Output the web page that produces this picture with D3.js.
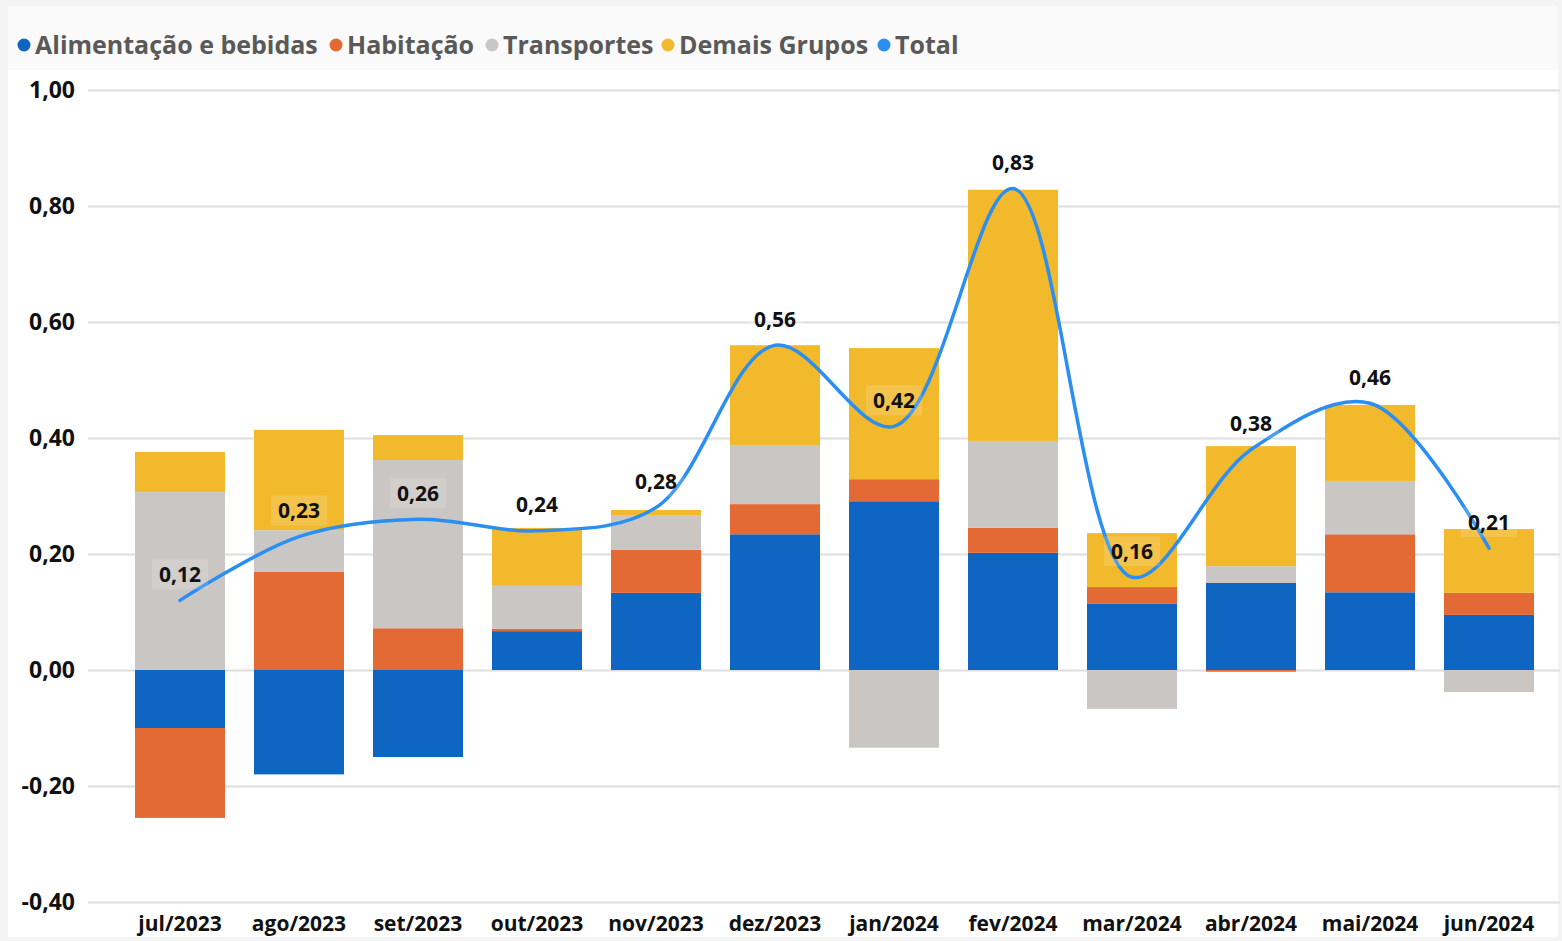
<!DOCTYPE html>
<html lang="pt">
<head>
<meta charset="utf-8">
<title>IPCA - contribuição por grupo</title>
<script src="https://d3js.org/d3.v7.min.js"></script>
<style>
  body { margin: 0; background: #f4f4f4; }
  svg { display: block; font-family: "Open Sans", "Noto Sans", sans-serif; }
</style>
</head>
<body>
<div id="chart"></div>
<script>
// data
var months = ["jul/2023", "ago/2023", "set/2023", "out/2023", "nov/2023", "dez/2023",
              "jan/2024", "fev/2024", "mar/2024", "abr/2024", "mai/2024", "jun/2024"];
var alimentacao = [-0.10, -0.18, -0.15, 0.067, 0.133, 0.234, 0.291, 0.202, 0.114, 0.150, 0.134, 0.095];
var habitacao   = [-0.155, 0.169, 0.072, 0.004, 0.074, 0.052, 0.038, 0.043, 0.029, -0.003, 0.100, 0.038];
var transportes = [0.307, 0.072, 0.290, 0.074, 0.059, 0.102, -0.134, 0.150, -0.067, 0.029, 0.092, -0.038];
var demais      = [0.069, 0.173, 0.043, 0.100, 0.010, 0.172, 0.226, 0.433, 0.093, 0.207, 0.131, 0.110];
var total       = [0.12, 0.23, 0.26, 0.24, 0.28, 0.56, 0.42, 0.83, 0.16, 0.38, 0.46, 0.21];
var yTicks = [-0.4, -0.2, 0, 0.2, 0.4, 0.6, 0.8, 1.0];

var seriesNames = ["Alimentação e bebidas", "Habitação", "Transportes", "Demais Grupos"];
var colors = ["#0f66c2", "#e46a35", "#c9c6c4", "#f2b92c"];
var lineColor = "#2a8ff0";

var w = 1562, h = 941;
var svg = d3.select("#chart").append("svg").attr("width", w).attr("height", h);

// panel
svg.append("rect").attr("x", 8).attr("y", 6).attr("width", w - 12).attr("height", h - 10)
  .attr("fill", "#ffffff");
svg.append("rect").attr("x", 8).attr("y", 6).attr("width", w - 12).attr("height", 64)
  .attr("fill", "#fafafa");

var fmt = function(v) { return d3.format(".2f")(v).replace(".", ",").replace("−", "-"); };

var x = d3.scaleBand().domain(months).range([120.5, 1548.5]).paddingInner(0.24).paddingOuter(0.12);
var y = d3.scaleLinear().domain([-0.4, 1.0]).range([902, 90]);

// gridlines
svg.append("g").selectAll("line").data(yTicks).enter().append("line")
  .attr("x1", 88).attr("x2", 1560)
  .attr("y1", function(d) { return y(d) + 0.5; })
  .attr("y2", function(d) { return y(d) + 0.5; })
  .attr("stroke", "#dedede").attr("stroke-width", 2);

// y labels
svg.append("g").selectAll("text").data(yTicks).enter().append("text")
  .attr("x", 75).attr("y", function(d) { return y(d); })
  .attr("dy", "0.35em").attr("text-anchor", "end")
  .attr("font-size", 23).attr("font-weight", "bold").attr("fill", "#111")
  .text(fmt);

// stacked bars
var table = months.map(function(m, i) {
  return { month: m, a: alimentacao[i], h: habitacao[i], t: transportes[i], d: demais[i] };
});
var stack = d3.stack().keys(["a", "h", "t", "d"]).offset(d3.stackOffsetDiverging);
var layers = stack(table);

var bw = 90;
svg.append("g").selectAll("g").data(layers).enter().append("g")
  .attr("fill", function(d, i) { return colors[i]; })
  .selectAll("rect").data(function(d) { return d; }).enter().append("rect")
    .attr("x", function(d) { return x(d.data.month) + x.bandwidth() / 2 - bw / 2; })
    .attr("width", bw)
    .attr("y", function(d) { return y(Math.max(d[0], d[1])); })
    .attr("height", function(d) { return Math.abs(y(d[0]) - y(d[1])); });

// total line
var cx = function(i) { return x(months[i]) + x.bandwidth() / 2; };
var line = d3.line()
  .x(function(d, i) { return cx(i); })
  .y(function(d) { return y(d); })
  .curve(d3.curveCatmullRom.alpha(0.5));
svg.append("path").datum(total)
  .attr("d", line).attr("fill", "none")
  .attr("stroke", lineColor).attr("stroke-width", 3.5).attr("stroke-linecap", "round");

// data labels
var lab = svg.append("g").selectAll("g").data(total).enter().append("g")
  .attr("transform", function(d, i) { return "translate(" + cx(i) + "," + (y(d) - 26) + ")"; });
lab.append("rect").attr("x", -28).attr("y", -15).attr("width", 56).attr("height", 30)
  .attr("fill", "#ffffff").attr("fill-opacity", 0.15);
lab.append("text").attr("text-anchor", "middle").attr("dy", "0.36em")
  .attr("font-size", 21).attr("font-weight", "bold").attr("fill", "#111")
  .text(fmt);

// x labels
svg.append("g").selectAll("text").data(months).enter().append("text")
  .attr("x", function(d, i) { return cx(i); }).attr("y", 924)
  .attr("dy", "0.35em").attr("text-anchor", "middle")
  .attr("font-size", 21).attr("font-weight", "bold").attr("fill", "#111")
  .text(function(d) { return d; });

// legend
var legendX = [24, 336, 492, 668, 884];
var legendItems = seriesNames.concat(["Total"]);
var legendColors = colors.concat([lineColor]);
var leg = svg.append("g").selectAll("g").data(legendItems).enter().append("g")
  .attr("transform", function(d, i) { return "translate(" + legendX[i] + ",45)"; });
leg.append("circle").attr("r", 6.5).attr("fill", function(d, i) { return legendColors[i]; });
leg.append("text").attr("x", 11).attr("dy", "0.35em")
  .attr("font-size", 25).attr("font-weight", "bold").attr("fill", "#595959")
  .text(function(d) { return d; });
</script>
</body>
</html>
